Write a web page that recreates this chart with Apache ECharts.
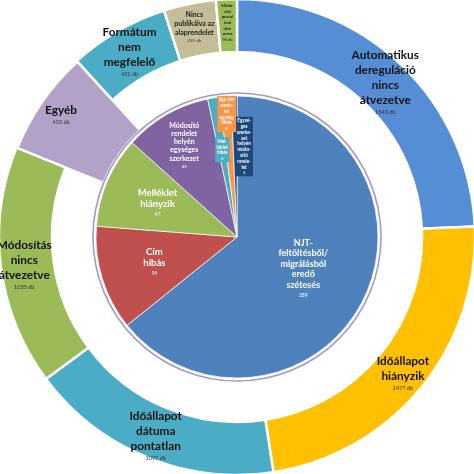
<!DOCTYPE html>
<html><head><meta charset="utf-8">
<script src="https://cdn.jsdelivr.net/npm/echarts@6/dist/echarts.min.js"></script>
<style>html,body{margin:0;padding:0;background:#fff}#c{width:474px;height:474px}</style>
</head><body><div id="c"></div>
<script>
const outerNames = ['Automatikus\ndereguláció\nnincs\nátvezetve','Időállapot\nhiányzik','Időállapot\ndátuma\npontatlan','Módosítás\nnincs\nátvezetve','Egyéb','Formátum\nnem\nmegfelelő','Nincs\npublikálva az\nalaprendelet','Módo-\nsító\npostul\nlasd\nülve\nzetve'];
const outerValues = [1543,1477,1097,1035,453,431,225,90];
const outerColors = ['#558ED5','#FFC000','#4BACC6','#9BBB59','#B3A2C7','#4BACC6','#C4BD97','#9BBB59'];

const innerNames = ['NJT-\nfeltöltésből/\nmigrálásból\neredő\nszétesés','Cím\nhibás','Melléklet\nhiányzik','Módosító\nrendelet\nhelyén\negységes\nszerkezet','Mel-\nléklet\nhibás','Egy cím\nrende-\nlet\negység\nhibás','Egysé-\nges\nszerke-\nzet\nhelyén\nmódo-\nsító\nrende-\nlet'];
const innerValues = [289,54,47,45,6,6,3];
const innerColors = ['#4F81BD','#C0504D','#9BBB59','#8064A2','#4BACC6','#F79646','#1F497D'];

const FONT = 'Lato';
const CENTER = ['50%','50%'];

function outerLabel(i){
  const big = {n:{fontFamily:FONT,fontWeight:'bold',fontSize:11.8,lineHeight:15,color:'#111'},v:{fontFamily:FONT,fontSize:5.5,lineHeight:9,color:'#333'}};
  const mid = {n:{fontFamily:FONT,fontWeight:'bold',fontSize:7,lineHeight:9,color:'#222'},v:{fontFamily:FONT,fontSize:4.5,lineHeight:7,color:'#333'}};
  const tiny = {n:{fontFamily:FONT,fontWeight:'bold',fontSize:4.2,lineHeight:5.6,color:'#222'},v:{fontFamily:FONT,fontSize:4,lineHeight:5.6,color:'#222'}};
  return {show:true,position:'inside',rich: i===6?mid:(i===7?tiny:big),
    formatter: p => p.name.split('\n').map(s=>'{n|'+s+'}').join('\n')+'\n{v|'+p.value+' db}'};
}

const outerData = outerNames.map((n,i)=>({name:n,value:outerValues[i],
  itemStyle: i===4 ? {color:'transparent',borderWidth:0} : {color:outerColors[i]},
  label: outerLabel(i)}));

const egyebData = outerNames.map((n,i)=>({name:n,value:outerValues[i],
  itemStyle:{color: i===4 ? outerColors[i] : 'transparent', borderColor: i===4?'#fff':'transparent'}}));

const innerData = innerNames.map((n,i)=>({name:n,value:innerValues[i],itemStyle:{color:innerColors[i]}}));

function innerRich(size, lh, vsize){
  return {n:{fontFamily:FONT,fontWeight:'bold',fontSize:size,lineHeight:lh,color:'#fff'},
          v:{fontFamily:FONT,fontSize:vsize,lineHeight:lh*0.9,color:'#fff'}};
}
function labelLayer(radius, idxs, styleFn, z){
  return {type:'pie',radius:radius,center:CENTER,startAngle:90,silent:true,z:z||5,
    avoidLabelOverlap:false,minShowLabelAngle:0,labelLine:{show:false},emphasis:{disabled:true},
    labelLayout:{hideOverlap:false},
    data: innerNames.map((n,i)=>{
      const on = idxs.indexOf(i)>=0;
      const st = on ? styleFn(i) : null;
      return {name:n,value:innerValues[i],itemStyle:{color:'transparent'},
        label: on ? Object.assign({show:true,position:'inside',
          formatter: p => p.name.split('\n').map(s=>'{n|'+s+'}').join('\n')+'\n{v|'+p.value+'}'}, st) : {show:false}};
    })};
}
function smallBox(i){
  return {backgroundColor: innerColors[i], padding:[1,1.5], rich: innerRich(4.6,5.8,4.6)};
}

const option = {
  animation:false,
  series:[
    {type:'pie',radius:[144,237],center:CENTER,startAngle:90,silent:true,z:1,
     label:{show:false},labelLine:{show:false},emphasis:{disabled:true},
     itemStyle:{borderWidth:2.5},data:egyebData},
    {type:'pie',radius:[185,238],center:CENTER,startAngle:90,silent:true,z:2,
     avoidLabelOverlap:false,minShowLabelAngle:0,labelLine:{show:false},emphasis:{disabled:true},
     labelLayout:{hideOverlap:false},
     itemStyle:{borderColor:'#fff',borderWidth:2.5},data:outerData},
    {type:'pie',radius:[143.2,144.8],center:CENTER,silent:true,z:2,label:{show:false},labelLine:{show:false},
     emphasis:{disabled:true},itemStyle:{color:'#A898C8'},data:[{name:'',value:1}]},
    {type:'pie',radius:[0,141],center:CENTER,startAngle:90,silent:true,z:3,
     label:{show:false},labelLine:{show:false},emphasis:{disabled:true},
     itemStyle:{borderColor:'#fff',borderWidth:0.7},data:innerData},
    labelLayer([0,141],[0],()=>({rich:innerRich(9,10.6,5)})),
    labelLayer([26,141],[1,2],()=>({rich:innerRich(9.5,11,5)})),
    labelLayer([64,141],[3],()=>({rich:innerRich(7,8.2,4.5)})),
    labelLayer([30,141],[4],smallBox),
    labelLayer([100,141],[5],smallBox,7),
    labelLayer([34,141],[6],(i)=>Object.assign(smallBox(i),{offset:[9,0]}),6)
  ]
};
echarts.init(document.getElementById('c')).setOption(option);
</script></body></html>
